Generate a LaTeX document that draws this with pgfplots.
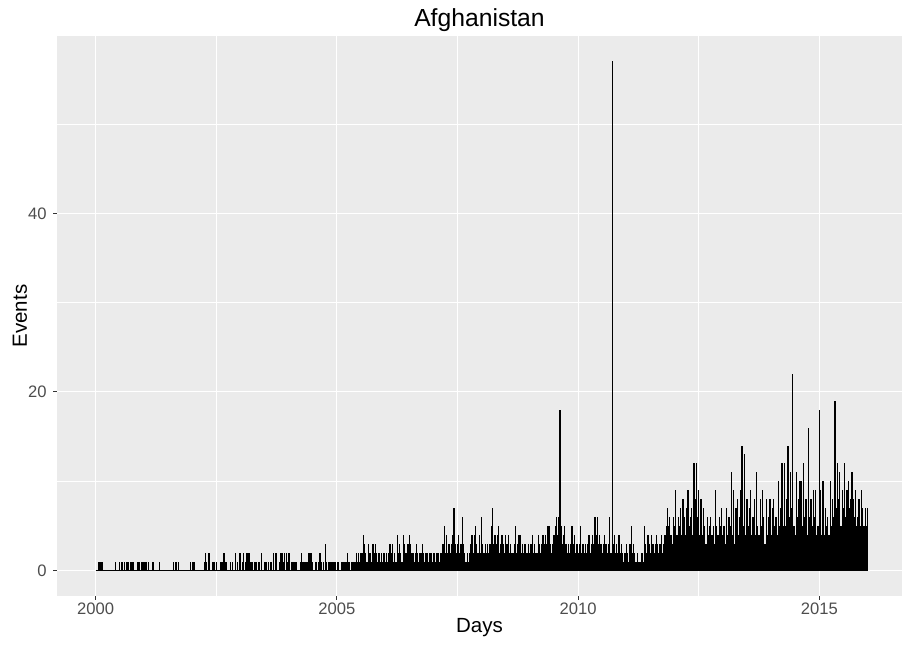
\documentclass[border=0pt]{standalone}
\usepackage{pgfplots}
\pgfplotsset{compat=1.18}
\usepackage{fontspec}
\setmainfont{Liberation Sans}
\definecolor{panel}{HTML}{EBEBEB}
\definecolor{gtwenty}{HTML}{333333}
\definecolor{gthirty}{HTML}{4D4D4D}
\begin{document}
\begin{tikzpicture}
\useasboundingbox (-57bp,-49bp) rectangle (845bp,596bp);
\begin{axis}[
  scale only axis, width=845bp, height=560bp,
  xmin=1999.198, xmax=2016.714, ymin=-2.85, ymax=59.85,
  axis background/.style={fill=panel},
  axis line style={draw=none},
  xtick={2000,2005,2010,2015}, xticklabels={2000,2005,2010,2015},
  minor xtick={2002.5,2007.5,2012.5},
  ytick={0,20,40}, yticklabels={0,20,40},
  minor ytick={10,30,50},
  grid=both,
  major grid style={white, line width=1.1bp},
  minor grid style={white, line width=0.55bp},
  tick align=outside, tick pos=left,
  major tick length=3.7bp, minor tick length=0pt,
  every tick/.style={gtwenty, line width=1.1bp},
  /pgf/number format/assume math mode=true,
  xticklabel style={font=\fontsize{16.6bp}{18bp}\selectfont, text=gthirty, anchor=base, yshift=-14.5bp},
  yticklabel style={font=\fontsize{16.6bp}{18bp}\selectfont, text=gthirty, anchor=east, inner sep=0pt, xshift=-6.5bp},
  xlabel={Days},
  xlabel style={at={(axis description cs:0.5,-0.0643)}, anchor=base, font=\fontsize{20.5bp}{24bp}\selectfont},
  ylabel={Events},
  ylabel style={at={(axis description cs:-0.0355,0.5)}, anchor=base, font=\fontsize{20.5bp}{24bp}\selectfont},
  title={Afghanistan},
  title style={at={(axis description cs:0.5,1.0071)}, anchor=base, font=\fontsize{24.7bp}{28bp}\selectfont},
]
\addplot[black, line width=1.1bp] coordinates {(2000.0,0) (2016.0,0)};
\addplot[ycomb, black, line width=1.3bp, mark=none] coordinates {
(2000.07,1)(2000.10,1)(2000.13,1)(2000.41,1)(2000.50,1)(2000.53,1)(2000.56,1)(2000.59,1)(2000.65,1)(2000.68,1)
(2000.72,1)(2000.75,1)(2000.78,1)(2000.87,1)(2000.90,1)(2000.96,1)(2000.99,1)(2001.02,1)(2001.05,1)(2001.10,1)
(2001.19,1)(2001.32,1)(2001.62,1)(2001.65,1)(2001.68,1)(2001.72,1)(2001.97,1)(2002.00,1)(2002.04,1)
(2002.25,1)(2002.27,2)(2002.30,1)(2002.35,2)(2002.43,1)(2002.47,1)(2002.51,1)(2002.58,1)(2002.62,1)(2002.66,2)
(2002.70,1)(2002.79,1)(2002.84,1)(2002.90,2)(2002.94,1)(2002.99,2)(2003.04,1)(2003.07,2)(2003.10,1)(2003.13,2)
(2003.16,2)(2003.19,2)(2003.22,1)(2003.25,1)(2003.30,1)(2003.33,1)(2003.37,1)(2003.40,1)(2003.44,2)(2003.51,1)
(2003.54,1)(2003.58,1)(2003.62,1)(2003.65,1)(2003.68,2)(2003.72,1)(2003.74,2)(2003.81,1)(2003.83,2)(2003.86,2)
(2003.89,1)(2003.92,2)(2003.95,2)(2003.98,1)(2004.01,2)(2004.06,1)(2004.09,1)(2004.13,1)(2004.16,1)(2004.24,1)
(2004.27,2)(2004.30,1)(2004.34,1)(2004.38,1)(2004.41,2)(2004.44,2)(2004.47,2)(2004.50,1)(2004.55,1)(2004.58,1)
(2004.62,1)(2004.65,2)(2004.68,1)(2004.72,1)(2004.76,3)(2004.79,1)(2004.82,1)(2004.86,1)(2004.89,1)(2004.92,1)
(2004.96,1)(2005.01,1)(2005.04,1)(2005.09,1)(2005.12,1)(2005.15,1)(2005.19,1)(2005.22,2)(2005.25,1)
(2005.300,1)(2005.325,1)(2005.350,1)(2005.375,1)(2005.400,2)(2005.425,1)(2005.450,2)(2005.475,1)
(2005.500,2)(2005.525,2)(2005.550,4)(2005.575,3)(2005.600,2)(2005.625,1)(2005.650,3)(2005.675,2)
(2005.700,2)(2005.725,1)(2005.750,3)(2005.775,2)(2005.800,3)(2005.825,2)(2005.850,1)(2005.875,2)
(2005.900,1)(2005.925,2)(2005.950,1)(2005.975,2)(2006.000,1)(2006.025,2)(2006.050,1)(2006.075,2)
(2006.100,3)(2006.125,2)(2006.150,3)(2006.175,1)(2006.200,2)(2006.225,1)(2006.250,4)(2006.275,2)
(2006.300,3)(2006.325,2)(2006.350,1)(2006.375,4)(2006.400,3)(2006.425,2)(2006.450,2)(2006.475,3)
(2006.500,4)(2006.525,3)(2006.550,2)(2006.575,2)(2006.600,1)(2006.625,2)(2006.650,3)(2006.675,2)
(2006.700,1)(2006.725,2)(2006.750,2)(2006.775,3)(2006.800,2)(2006.825,1)(2006.850,2)(2006.875,2)
(2006.900,1)(2006.925,2)(2006.950,2)(2006.975,1)(2007.000,2)(2007.025,2)(2007.050,1)(2007.075,2)
(2007.100,2)(2007.125,1)(2007.150,2)(2007.175,2)(2007.200,3)(2007.225,5)(2007.250,2)(2007.275,4)
(2007.300,2)(2007.325,3)(2007.350,2)(2007.375,3)(2007.400,4)(2007.425,7)(2007.450,3)(2007.475,2)
(2007.500,3)(2007.525,4)(2007.550,2)(2007.575,3)(2007.600,6)(2007.625,3)(2007.650,2)(2007.675,1)
(2007.700,2)(2007.725,1)(2007.750,2)(2007.775,3)(2007.800,4)(2007.825,2)(2007.850,4)(2007.875,5)
(2007.900,3)(2007.925,2)(2007.950,4)(2007.975,2)(2008.000,6)(2008.025,3)(2008.050,2)(2008.075,3)
(2008.100,2)(2008.125,3)(2008.150,2)(2008.175,3)(2008.200,5)(2008.225,7)(2008.250,3)(2008.275,4)
(2008.300,3)(2008.325,4)(2008.350,5)(2008.375,2)(2008.400,3)(2008.425,4)(2008.450,3)(2008.475,2)
(2008.500,4)(2008.525,3)(2008.550,4)(2008.575,2)(2008.600,3)(2008.625,2)(2008.650,2)(2008.675,3)
(2008.700,5)(2008.725,2)(2008.750,3)(2008.775,4)(2008.800,4)(2008.825,2)(2008.850,3)(2008.875,2)
(2008.900,3)(2008.925,2)(2008.950,2)(2008.975,3)(2009.000,2)(2009.025,3)(2009.050,4)(2009.075,2)
(2009.100,3)(2009.125,2)(2009.150,2)(2009.175,4)(2009.200,3)(2009.225,2)(2009.250,3)(2009.275,4)
(2009.300,3)(2009.325,4)(2009.350,3)(2009.375,5)(2009.400,5)(2009.425,3)(2009.450,2)(2009.475,3)
(2009.500,4)(2009.525,5)(2009.550,6)(2009.575,4)(2009.600,6)(2009.625,18)(2009.650,5)(2009.675,3)
(2009.700,4)(2009.725,5)(2009.750,3)(2009.775,2)(2009.800,3)(2009.825,2)(2009.850,3)(2009.875,5)
(2009.900,3)(2009.925,4)(2009.950,2)(2009.975,3)(2010.000,2)(2010.025,3)(2010.050,5)(2010.075,2)
(2010.100,3)(2010.125,2)(2010.150,3)(2010.175,2)(2010.200,3)(2010.225,4)(2010.250,2)(2010.275,3)
(2010.300,4)(2010.325,3)(2010.350,6)(2010.375,4)(2010.400,6)(2010.425,3)(2010.450,4)(2010.475,3)
(2010.500,2)(2010.525,3)(2010.550,4)(2010.575,3)(2010.600,2)(2010.625,3)(2010.650,6)(2010.675,2)
(2010.700,2)(2010.710,57)(2010.725,3)(2010.750,4)(2010.775,2)(2010.800,3)(2010.825,2)(2010.850,4)(2010.875,2)
(2010.900,3)(2010.925,2)(2010.950,1)(2010.975,2)(2011.000,3)(2011.025,2)(2011.050,1)(2011.075,3)
(2011.100,5)(2011.125,2)(2011.150,3)(2011.175,2)(2011.200,1)(2011.225,2)(2011.250,1)(2011.275,1)
(2011.300,1)(2011.325,2)(2011.350,1)(2011.375,5)(2011.400,3)(2011.425,2)(2011.450,4)(2011.475,3)
(2011.500,2)(2011.525,4)(2011.550,3)(2011.575,2)(2011.600,3)(2011.625,4)(2011.650,3)(2011.675,2)
(2011.700,3)(2011.725,4)(2011.750,2)(2011.775,3)(2011.800,4)(2011.825,5)(2011.850,7)(2011.875,5)
(2011.900,6)(2011.925,4)(2011.950,3)(2011.975,6)(2012.000,5)(2012.025,9)(2012.050,4)(2012.075,6)
(2012.100,5)(2012.125,7)(2012.150,4)(2012.175,8)(2012.200,6)(2012.225,4)(2012.250,7)(2012.275,9)
(2012.300,5)(2012.325,6)(2012.350,7)(2012.375,4)(2012.400,12)(2012.425,8)(2012.450,12)(2012.475,6)
(2012.500,9)(2012.525,4)(2012.550,8)(2012.575,4)(2012.600,7)(2012.625,5)(2012.650,3)(2012.675,6)
(2012.700,4)(2012.725,5)(2012.750,6)(2012.775,4)(2012.800,5)(2012.825,3)(2012.850,9)(2012.875,5)
(2012.900,4)(2012.925,6)(2012.950,5)(2012.975,7)(2013.000,4)(2013.025,5)(2013.050,3)(2013.075,7)
(2013.100,4)(2013.125,6)(2013.150,5)(2013.175,11)(2013.200,4)(2013.225,9)(2013.250,3)(2013.275,7)
(2013.300,8)(2013.325,4)(2013.350,6)(2013.375,9)(2013.400,14)(2013.425,5)(2013.450,13)(2013.475,4)
(2013.500,8)(2013.525,5)(2013.550,7)(2013.575,9)(2013.600,4)(2013.625,6)(2013.650,8)(2013.675,4)
(2013.700,11)(2013.725,5)(2013.750,4)(2013.775,8)(2013.800,5)(2013.825,9)(2013.850,6)(2013.875,3)
(2013.900,8)(2013.925,4)(2013.950,6)(2013.975,8)(2014.000,4)(2014.025,7)(2014.050,8)(2014.075,5)
(2014.100,6)(2014.125,4)(2014.150,10)(2014.175,5)(2014.200,7)(2014.225,12)(2014.250,5)(2014.275,12)
(2014.300,5)(2014.325,8)(2014.350,14)(2014.375,6)(2014.400,11)(2014.425,7)(2014.450,22)(2014.475,5)
(2014.500,4)(2014.525,11)(2014.550,6)(2014.575,8)(2014.600,10)(2014.625,10)(2014.650,5)(2014.675,12)
(2014.700,6)(2014.725,8)(2014.750,4)(2014.775,16)(2014.800,6)(2014.825,8)(2014.850,5)(2014.875,9)
(2014.900,6)(2014.925,9)(2014.950,4)(2014.975,5)(2015.000,18)(2015.025,9)(2015.050,4)(2015.075,10)
(2015.100,4)(2015.125,7)(2015.150,5)(2015.175,6)(2015.200,4)(2015.225,10)(2015.250,5)(2015.275,8)
(2015.300,6)(2015.325,19)(2015.350,7)(2015.375,12)(2015.400,8)(2015.425,11)(2015.450,5)(2015.475,9)
(2015.500,7)(2015.525,12)(2015.550,6)(2015.575,9)(2015.600,10)(2015.625,7)(2015.650,8)(2015.675,11)
(2015.700,8)(2015.725,6)(2015.750,9)(2015.775,5)(2015.800,6)(2015.825,8)(2015.850,5)(2015.875,9)
(2015.900,7)(2015.925,5)(2015.950,7)(2015.975,5)(2016.000,7)
};
\end{axis}
\end{tikzpicture}
\end{document}
